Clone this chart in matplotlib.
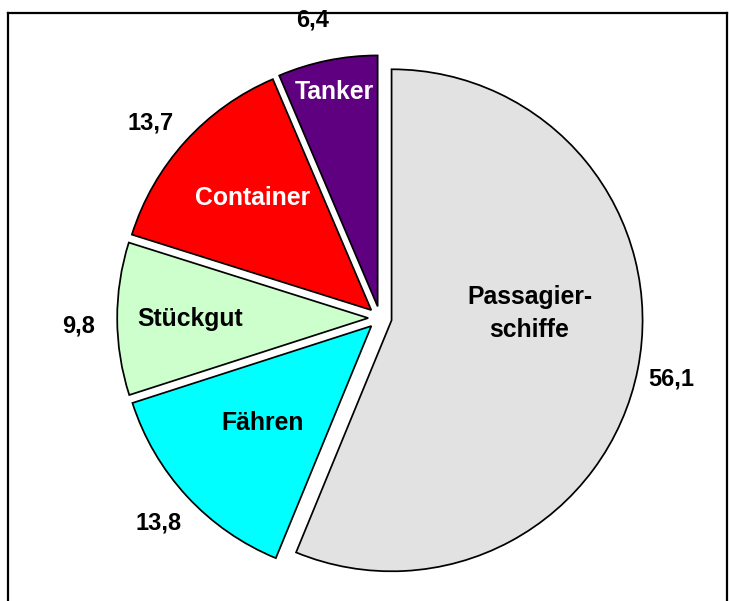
import numpy as np
import matplotlib
matplotlib.use("Agg")
import matplotlib.pyplot as plt
from matplotlib.lines import Line2D

# data (clockwise from 12 o'clock)
categories = ["Passagier-\nschiffe", "Fähren", "Stückgut", "Container", "Tanker"]
values = [56.1, 13.8, 9.8, 13.7, 6.4]
value_labels = ["56,1", "13,8", "9,8", "13,7", "6,4"]
colors = ["#E2E2E2", "#00FFFF", "#CCFFCC", "#FF0000", "#5E0080"]
text_colors = ["black", "black", "black", "white", "white"]

# label placement: (fraction of radius, angle shift in degrees)
inner_pos = [(0.55, 14), (0.58, -1), (0.71, 0), (0.65, -1), (0.87, 0)]
outer_pos = [(1.14, -0.7), (1.155, 0), (1.156, 1.3), (1.155, 1.9), (1.17, 1.3)]

W, H = 729, 601
cx, cy, R = 380, 318, 251  # pixel centre and radius

fig = plt.figure(figsize=(W / 100, H / 100), dpi=100)
ax = fig.add_axes([0, 0, 1, 1])
ax.axis("off")

wedges, texts = ax.pie(
    values,
    labels=value_labels,
    colors=colors,
    startangle=90,
    counterclock=False,
    explode=[0.047] * len(values),
    radius=1.0,
    wedgeprops=dict(edgecolor="black", linewidth=1.25),
    textprops=dict(fontsize=17, fontweight="bold", family="Liberation Sans"),
    frame=True,
)

ax.set_xlim(-cx / R, (W - cx) / R)
ax.set_ylim(-(H - cy) / R, cy / R)
ax.set_aspect("auto")
ax.axis("off")


def _place(w, frac, shift):
    mid = np.deg2rad((w.theta1 + w.theta2) / 2 + shift)
    x0, y0 = w.center
    return x0 + frac * w.r * np.cos(mid), y0 + frac * w.r * np.sin(mid)


for w, t, (frac, shift) in zip(wedges, texts, outer_pos):
    t.set_position(_place(w, frac, shift))
    t.set_horizontalalignment("center")
    t.set_verticalalignment("center")

for w, name, tc, (frac, shift) in zip(wedges, categories, text_colors, inner_pos):
    x, y = _place(w, frac, shift)
    ax.text(x, y, name, ha="center", va="center", color=tc, fontsize=17.8,
            fontweight="bold", family="Liberation Sans", linespacing=1.45)

# outer frame
for xs, ys in [([7.5, 7.5], [-10, 13]), ([7.5, 727], [13, 13]), ([727, 727], [13, -10])]:
    fig.add_artist(Line2D([x / W for x in xs], [1 - y / H if y >= 0 else -0.05 for y in ys],
                          color="black", linewidth=1.6, transform=fig.transFigure))

fig.savefig("out.png", dpi=100)
